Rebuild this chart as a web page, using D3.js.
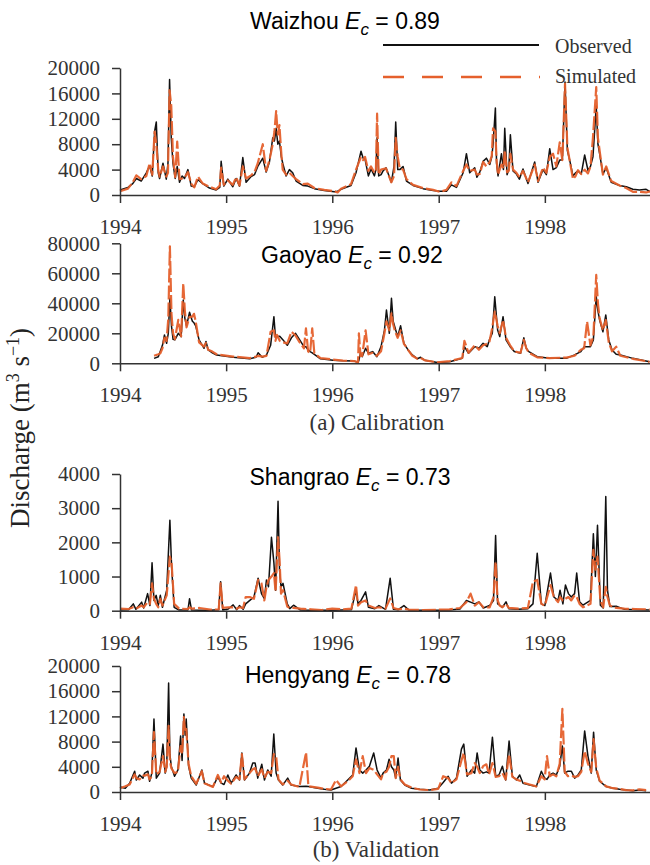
<!DOCTYPE html>
<html><head><meta charset="utf-8">
<script src="https://cdn.jsdelivr.net/npm/d3@7"></script>
<style>body{margin:0;background:#fff} svg{display:block}</style>
</head><body><svg id="chart" width="650" height="865"></svg>
<script>
// ---------- DATA: [decimal year, observed, simulated] (m3/s) ----------
const waizhouData = [
[1994.000,800,600],[1994.075,1200,1000],[1994.120,1800,2000],[1994.154,2600,3100],[1994.200,2200,2500],
[1994.248,3500,3000],[1994.279,4600,5000],[1994.304,3000,3200],[1994.326,10000,10000],[1994.342,11500,8000],
[1994.360,3500,4000],[1994.373,2600,2900],[1994.405,5000,4500],[1994.436,2500,2900],[1994.452,5000,3500],
[1994.467,18200,16500],[1994.483,9000,14000],[1994.499,5000,6000],[1994.520,2600,2800],[1994.539,4500,8400],
[1994.561,2000,2500],[1994.585,3000,2600],[1994.608,2600,2700],[1994.640,4000,3600],[1994.671,1400,1800],
[1994.700,1300,1200],[1994.734,2400,2900],[1994.780,1800,1800],[1994.843,1100,1300],[1994.906,800,900],
[1994.940,1200,1500],[1994.953,5300,4300],[1994.978,1400,1600],[1995.016,2500,2300],[1995.063,1300,1600],
[1995.094,2600,2800],[1995.126,1400,1500],[1995.157,5900,4500],[1995.188,2000,2600],[1995.235,2900,3100],
[1995.267,3200,3600],[1995.298,4500,5000],[1995.345,5800,8000],[1995.377,3600,3800],[1995.408,5200,5500],
[1995.439,9000,8000],[1995.455,8500,10000],[1995.471,10500,13200],[1995.487,8000,9500],[1995.502,8500,11000],
[1995.520,6000,6500],[1995.533,5000,4000],[1995.565,3000,3200],[1995.596,4000,3500],[1995.627,3500,3000],
[1995.659,2200,2500],[1995.722,1500,1700],[1995.769,1400,1800],[1995.831,1000,1100],[1995.925,700,800],
[1996.019,500,600],[1996.050,600,400],[1996.082,900,1000],[1996.176,1500,1700],[1996.223,3500,4000],
[1996.270,6900,6000],[1996.290,5800,5500],[1996.308,5600,6000],[1996.339,3000,3800],[1996.364,4100,4500],
[1996.396,3000,3500],[1996.410,4000,4000],[1996.421,9000,12800],[1996.436,3000,3200],[1996.459,3200,4000],
[1996.477,3800,4100],[1996.505,4300,4200],[1996.555,2000,2000],[1996.580,4500,3000],[1996.596,11500,9000],
[1996.615,4000,6000],[1996.634,4000,4200],[1996.665,4500,4000],[1996.697,2200,2500],[1996.759,1500,1600],
[1996.853,1000,1100],[1996.948,700,800],[1997.010,600,500],[1997.073,600,800],[1997.120,1600,2000],
[1997.167,1200,1400],[1997.230,3500,3800],[1997.261,6500,4800],[1997.292,3500,3800],[1997.339,4300,4000],
[1997.360,2800,3200],[1997.387,3600,3300],[1997.418,5300,5200],[1997.449,5800,4500],[1997.481,4800,5200],
[1997.500,6000,6200],[1997.512,8000,10500],[1997.534,13700,10000],[1997.545,5000,5500],[1997.559,3000,3200],
[1997.591,6500,4800],[1997.610,4000,4200],[1997.622,10500,7000],[1997.644,3200,3600],[1997.660,4000,3800],
[1997.675,9500,6500],[1997.700,3800,4000],[1997.732,3300,3500],[1997.760,2500,2800],[1997.794,4100,3800],
[1997.841,1800,2000],[1997.904,5200,4800],[1997.936,2000,2200],[1997.983,4000,4300],[1998.014,3200,3500],
[1998.046,7300,6000],[1998.077,4000,6500],[1998.108,4300,4500],[1998.140,5500,8300],[1998.165,5500,5500],
[1998.190,17800,17500],[1998.212,7000,7500],[1998.234,5500,5400],[1998.265,3000,2500],[1998.290,3500,3000],
[1998.312,3800,3900],[1998.343,3300,3300],[1998.375,6300,4000],[1998.406,3900,3400],[1998.430,4500,4500],
[1998.453,6000,9000],[1998.484,14000,17000],[1998.500,8000,9000],[1998.516,6500,7000],[1998.547,3300,3200],
[1998.578,4300,4500],[1998.625,2000,2200],[1998.704,1500,1500],[1998.766,1300,1100],[1998.829,900,500],
[1998.892,800,500],[1998.954,900,400],[1998.995,500,600]
];
const gaoyaoData = [
[1994.321,3300,5000],[1994.361,4400,6000],[1994.379,7800,6500],[1994.400,12000,10000],[1994.419,18900,17000],
[1994.439,13300,15000],[1994.455,20000,30000],[1994.470,43300,78000],[1994.485,25000,33000],[1994.500,16000,20000],
[1994.517,15600,16000],[1994.549,20000,28900],[1994.576,17800,18000],[1994.596,42200,53300],[1994.611,30000,35000],
[1994.627,25000,24000],[1994.655,34000,31000],[1994.682,28000,31100],[1994.697,27000,33000],[1994.713,25000,28000],
[1994.745,15600,14000],[1994.792,10000,11100],[1994.810,14500,13500],[1994.831,8900,9000],[1994.870,7000,7800],
[1994.910,5500,6000],[1995.066,4000,4500],[1995.223,3000,3500],[1995.282,4000,4400],[1995.301,7000,5000],
[1995.340,4000,4500],[1995.380,5500,5000],[1995.419,12000,21000],[1995.450,31100,22000],[1995.465,17000,15000],
[1995.478,17800,19000],[1995.505,18000,15000],[1995.536,15600,14000],[1995.576,12000,13300],[1995.615,17000,21000],
[1995.654,20000,18500],[1995.693,15600,14000],[1995.733,11100,10000],[1995.752,11000,23300],[1995.772,9000,8000],
[1995.791,7800,7000],[1995.811,7000,23300],[1995.831,6000,6700],[1995.889,3000,3500],[1996.007,2000,2500],
[1996.100,1700,1800],[1996.203,1500,1500],[1996.242,600,800],[1996.250,2000,20000],[1996.265,7000,5000],
[1996.281,4400,5000],[1996.313,10000,22000],[1996.340,6700,6000],[1996.379,7800,7000],[1996.419,4400,5000],
[1996.458,11100,8000],[1996.490,22000,20000],[1996.509,35500,28000],[1996.536,20000,22000],[1996.556,43300,33300],
[1996.572,28000,26000],[1996.587,24400,22000],[1996.614,17800,17000],[1996.642,25000,22000],[1996.673,13300,13000],
[1996.712,8900,9000],[1996.752,5600,5000],[1996.800,3000,3000],[1996.830,4000,3500],[1996.870,2000,2000],
[1996.987,500,700],[1997.104,1100,1500],[1997.222,3300,3500],[1997.242,11100,15000],[1997.281,6700,7000],
[1997.340,11100,12000],[1997.379,10000,9000],[1997.418,13300,12000],[1997.457,11100,13000],[1997.477,15600,14000],
[1997.505,20000,24000],[1997.528,44400,34400],[1997.555,22200,25000],[1997.575,17800,20000],[1997.606,31100,28900],
[1997.634,15600,17000],[1997.673,11100,12000],[1997.712,7800,8000],[1997.771,6700,7000],[1997.802,17000,15600],
[1997.825,10000,10000],[1997.849,7800,7000],[1997.928,4400,4000],[1998.045,3300,3500],[1998.202,3300,3800],
[1998.280,5600,5000],[1998.339,7800,9000],[1998.370,11000,10000],[1998.398,11100,27800],[1998.429,11100,12000],
[1998.457,15600,18000],[1998.484,44400,58900],[1998.500,35000,40000],[1998.516,28900,30000],[1998.547,21000,22000],
[1998.574,32200,28900],[1998.602,15600,14000],[1998.633,8900,8000],[1998.672,6000,11100],[1998.711,5600,5000],
[1998.829,3300,3000],[1998.986,1100,1000]
];
const shangraoData = [
[1994.000,20,60],[1994.080,30,50],[1994.125,200,100],[1994.150,40,60],[1994.204,250,150],[1994.223,80,100],
[1994.260,500,250],[1994.282,150,200],[1994.302,1400,800],[1994.320,300,350],[1994.341,450,200],[1994.360,150,100],
[1994.380,450,350],[1994.400,100,150],[1994.440,600,450],[1994.470,2650,1580],[1994.486,1300,1400],[1994.510,100,200],
[1994.557,20,60],[1994.640,20,50],[1994.655,350,100],[1994.674,20,60],[1994.750,10,80],[1994.850,10,30],
[1994.930,30,40],[1994.948,850,800],[1994.968,20,80],[1995.020,50,100],[1995.066,170,100],[1995.100,30,60],
[1995.125,150,100],[1995.160,40,80],[1995.184,200,400],[1995.223,300,400],[1995.262,400,350],[1995.301,950,900],
[1995.333,500,800],[1995.360,350,300],[1995.380,900,700],[1995.399,700,900],[1995.427,2150,1000],[1995.450,1400,1100],
[1995.466,600,550],[1995.489,3200,2150],[1995.503,1200,1500],[1995.517,700,500],[1995.536,800,600],[1995.576,200,120],
[1995.600,60,80],[1995.635,160,80],[1995.700,20,60],[1995.800,10,40],[1995.900,10,20],[1996.000,10,60],
[1996.100,20,40],[1996.180,30,60],[1996.223,600,750],[1996.242,200,150],[1996.270,300,250],[1996.313,550,300],
[1996.340,100,150],[1996.400,60,80],[1996.438,150,100],[1996.500,40,60],[1996.544,950,360],[1996.575,40,80],
[1996.620,30,40],[1996.673,150,60],[1996.720,20,30],[1996.850,10,20],[1997.000,10,30],[1997.100,20,40],
[1997.200,50,80],[1997.261,300,250],[1997.300,250,500],[1997.340,200,150],[1997.379,260,250],[1997.420,80,100],
[1997.480,150,100],[1997.516,300,400],[1997.536,2200,1430],[1997.555,200,300],[1997.575,160,150],[1997.600,100,100],
[1997.634,260,200],[1997.660,60,80],[1997.750,40,60],[1997.840,60,80],[1997.888,200,850],[1997.928,1680,900],
[1997.967,200,200],[1998.000,150,150],[1998.053,1100,750],[1998.085,400,400],[1998.124,300,250],[1998.143,600,400],
[1998.170,200,300],[1998.194,750,350],[1998.222,500,400],[1998.249,400,300],[1998.280,500,450],[1998.300,1100,400],
[1998.327,260,200],[1998.359,160,100],[1998.430,300,200],[1998.457,2250,1780],[1998.476,1000,1200],[1998.496,2500,1580],
[1998.523,160,300],[1998.550,80,100],[1998.574,3340,700],[1998.590,600,400],[1998.613,120,150],[1998.672,130,80],
[1998.750,40,60],[1998.850,30,50],[1998.986,20,40]
];
const hengyangData = [
[1994.000,800,600],[1994.050,600,900],[1994.091,1400,1200],[1994.138,3300,2800],[1994.154,1900,2200],[1994.185,2700,2000],
[1994.216,2200,2600],[1994.232,3000,2600],[1994.263,3300,2800],[1994.279,1700,2000],[1994.300,3000,2500],[1994.320,11600,9500],
[1994.342,2200,2800],[1994.373,3000,3200],[1994.405,7600,5700],[1994.426,3000,3200],[1994.440,4000,4000],[1994.458,17300,10500],
[1994.470,6000,5000],[1994.483,4100,3800],[1994.514,2500,3000],[1994.546,3500,3200],[1994.571,8900,7300],[1994.585,5000,6000],
[1994.602,12400,11900],[1994.614,9000,9500],[1994.624,11600,10000],[1994.646,4100,4500],[1994.671,2200,2500],[1994.718,1100,1300],
[1994.771,3500,3300],[1994.796,1400,1400],[1994.875,860,800],[1994.922,2400,2700],[1994.953,1400,1500],[1994.980,1200,2500],
[1995.016,2700,1800],[1995.047,1400,1300],[1995.094,2700,2400],[1995.126,1900,2000],[1995.148,6200,6000],[1995.173,1900,2000],
[1995.220,3000,3000],[1995.251,4600,3600],[1995.273,4600,3800],[1995.298,2200,2500],[1995.336,4400,3600],[1995.361,1900,2200],
[1995.392,3500,3200],[1995.424,2500,3000],[1995.449,9200,6000],[1995.471,3000,5700],[1995.493,1900,2000],[1995.533,1100,1200],
[1995.580,2200,1800],[1995.612,1100,1200],[1995.690,860,800],[1995.753,900,6300],[1995.775,860,900],[1995.863,600,700],
[1995.925,430,500],[1995.988,320,400],[1996.035,600,1900],[1996.082,860,900],[1996.145,1900,1700],[1996.192,2700,2500],
[1996.223,7000,5200],[1996.255,3500,3000],[1996.286,3000,5700],[1996.317,3500,3000],[1996.349,4100,3800],[1996.389,6200,3500],
[1996.421,3500,2800],[1996.458,2200,2000],[1996.477,3000,3000],[1996.509,3500,3200],[1996.534,5200,4000],[1996.556,4000,5700],
[1996.578,3500,5700],[1996.596,2200,2200],[1996.618,5400,4000],[1996.640,1900,2000],[1996.681,1100,1200],[1996.744,600,700],
[1996.822,430,400],[1996.916,320,300],[1996.995,600,500],[1997.042,1500,2500],[1997.089,2500,2200],[1997.120,1400,1400],
[1997.167,2200,2000],[1997.214,6800,5000],[1997.236,7600,6200],[1997.267,2500,2800],[1997.308,3500,3000],[1997.339,3000,4600],
[1997.362,6200,4000],[1997.387,3500,3000],[1997.418,3000,4100],[1997.449,3200,4400],[1997.474,3000,2800],[1997.506,8700,4600],
[1997.537,2500,2400],[1997.568,2700,2500],[1997.600,4100,3000],[1997.631,1900,2000],[1997.663,8100,6000],[1997.694,2500,2400],
[1997.732,1900,2000],[1997.763,2700,1800],[1997.794,1400,1500],[1997.857,1100,1200],[1997.920,860,900],[1997.967,3300,2500],
[1997.998,2200,2000],[1998.020,2000,5700],[1998.046,2700,2500],[1998.077,3000,2800],[1998.108,2700,2500],[1998.140,4100,4500],
[1998.165,7300,13200],[1998.187,3000,3200],[1998.218,3300,2500],[1998.250,3300,2600],[1998.281,2200,2400],[1998.312,2700,2500],
[1998.343,3500,3200],[1998.375,9700,6500],[1998.406,5700,4500],[1998.437,3000,3200],[1998.459,9500,8400],[1998.484,3500,3800],
[1998.516,1700,1800],[1998.578,860,900],[1998.641,600,600],[1998.704,430,500],[1998.766,320,300],[1998.829,200,250],
[1998.892,300,430],[1998.954,200,300]
];
const stationNames = ["Waizhou", "Gaoyao", "Shangrao", "Hengyang"];
const ecValues = ["0.89", "0.92", "0.73", "0.78"];
const yTicksWaizhou = [0, 4000, 8000, 12000, 16000, 20000];
const yTicksGaoyao = [0, 20000, 40000, 60000, 80000];
const yTicksShangrao = [0, 1000, 2000, 3000, 4000];
const yTicksHengyang = [0, 4000, 8000, 12000, 16000, 20000];
const xTickYears = [1994, 1995, 1996, 1997, 1998];
const legendLabels = ["Observed", "Simulated"];
const captions = ["(a) Calibration", "(b) Validation"];

// ---------- LAYOUT ----------
const OBS = "#111111", SIM = "#e5602c", AX = "#333333";
const serif = "'Liberation Serif','Times New Roman',serif";
const sans = "'Liberation Sans',Arial,sans-serif";
const panels = [
  {data: waizhouData,  ticks: yTicksWaizhou,  max: 20000, y0: 195,   yTop: 68,    tx: 345, ty: 29},
  {data: gaoyaoData,   ticks: yTicksGaoyao,   max: 80000, y0: 363.3, yTop: 243.3, tx: 352, ty: 263},
  {data: shangraoData, ticks: yTicksShangrao, max: 4000,  y0: 610.7, yTop: 474,   tx: 350, ty: 485},
  {data: hengyangData, ticks: yTicksHengyang, max: 20000, y0: 792,   yTop: 666,   tx: 348, ty: 683}
];

const svg = d3.select("#chart");
svg.append("rect").attr("width", 650).attr("height", 865).attr("fill", "#fff");

const toDate = v => { const yr = Math.floor(v); const a = Date.UTC(yr,0,1), b = Date.UTC(yr+1,0,1); return new Date(a + (v-yr)*(b-a)); };
const x = d3.scaleUtc().domain([new Date(Date.UTC(1994,0,1)), new Date(Date.UTC(1999,0,1))]).range([120, 651]);
const yearTicks = xTickYears.map(y => new Date(Date.UTC(y,0,1)));

panels.forEach((p, i) => {
  const y = d3.scaleLinear().domain([0, p.max]).range([p.y0, p.yTop]);
  const g = svg.append("g");
  const lineObs = d3.line().x(d => x(toDate(d[0]))).y(d => y(d[1]));
  const lineSim = d3.line().x(d => x(toDate(d[0]))).y(d => y(d[2]));
  g.append("path").datum(p.data).attr("d", lineObs).attr("fill","none").attr("stroke", OBS).attr("stroke-width", 1.5).attr("stroke-linejoin","round");
  g.append("path").datum(p.data).attr("d", lineSim).attr("fill","none").attr("stroke", SIM).attr("stroke-width", 2.2).attr("stroke-dasharray","14,3").attr("stroke-linejoin","round").attr("opacity",0.95);

  const xa = g.append("g").attr("transform", `translate(0,${p.y0})`)
    .call(d3.axisBottom(x).tickValues(yearTicks).tickFormat(d3.utcFormat("%Y")).tickSize(8).tickSizeOuter(0).tickPadding(16));
  const ya = g.append("g").attr("transform", "translate(120,0)")
    .call(d3.axisLeft(y).tickValues(p.ticks).tickFormat(d3.format("d")).tickSize(8).tickSizeOuter(0).tickPadding(12));
  [xa, ya].forEach(a => {
    a.attr("font-family", null).attr("font-size", null);
    a.select(".domain").attr("stroke", AX).attr("stroke-width", 1.5);
    a.selectAll(".tick line").attr("stroke", AX).attr("stroke-width", 1.5);
    a.selectAll(".tick text").attr("fill", "#333").style("font-family", serif).style("font-size", "21px");
  });

  const t = g.append("text").attr("x", p.tx).attr("y", p.ty).attr("text-anchor","middle")
    .attr("font-family", sans).attr("font-size", 23).attr("fill","#000");
  t.append("tspan").text(stationNames[i] + " ");
  t.append("tspan").attr("font-style","italic").text("E");
  t.append("tspan").attr("font-style","italic").attr("font-size", 17).attr("dy", 6).text("c");
  t.append("tspan").attr("dy", -6).text(" = " + ecValues[i]);
});

// legend
const lg = svg.append("g");
lg.append("line").attr("x1",383).attr("x2",539).attr("y1",45).attr("y2",45).attr("stroke",OBS).attr("stroke-width",2);
lg.append("line").attr("x1",383).attr("x2",540).attr("y1",77).attr("y2",77).attr("stroke",SIM).attr("stroke-width",2.6).attr("stroke-dasharray","21,18");
lg.append("text").attr("x",555).attr("y",53).attr("font-family",serif).attr("font-size",20).attr("fill","#333").text(legendLabels[0]);
lg.append("text").attr("x",555).attr("y",83).attr("font-family",serif).attr("font-size",20).attr("fill","#333").text(legendLabels[1]);

// captions
svg.append("text").attr("x",377).attr("y",430).attr("text-anchor","middle").attr("font-family",serif).attr("font-size",23).attr("fill","#333").text(captions[0]);
svg.append("text").attr("x",376).attr("y",857).attr("text-anchor","middle").attr("font-family",serif).attr("font-size",23).attr("fill","#333").text(captions[1]);

// y label
const yl = svg.append("text").attr("transform","translate(29,428) rotate(-90)").attr("text-anchor","middle")
  .attr("font-family",serif).attr("font-size",27).attr("fill","#222");
yl.append("tspan").text("Discharge (m");
yl.append("tspan").attr("font-size",18).attr("dy",-10).text("3");
yl.append("tspan").attr("dy",10).text(" s");
yl.append("tspan").attr("font-size",18).attr("dy",-10).text("\u22121");
yl.append("tspan").attr("dy",10).text(")");
</script></body></html>
